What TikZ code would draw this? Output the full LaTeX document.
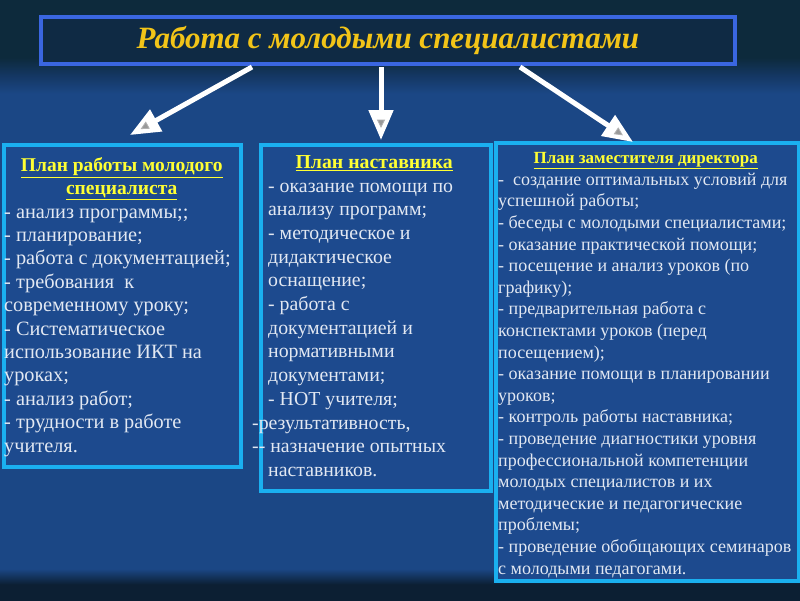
\documentclass[tikz,border=0pt]{standalone}
\usepackage{fontspec}
\setmainfont{Liberation Serif}
\usetikzlibrary{arrows.meta,calc,decorations.markings}
\definecolor{bgtop}{HTML}{0D2A3C}
\definecolor{bgup}{HTML}{143763}
\definecolor{bgmid}{HTML}{1B4785}
\definecolor{bgbot}{HTML}{0C1F33}
\definecolor{panelfill}{HTML}{1D4A8E}
\definecolor{panelline}{HTML}{1AB0F0}
\definecolor{titleline}{HTML}{3A66E0}
\definecolor{titlefill}{HTML}{0F2A44}
\definecolor{titletext}{HTML}{F2C418}
\definecolor{hdrcol}{HTML}{FFFF33}
\definecolor{bodycol}{HTML}{E2E8F2}
\pgfdeclareverticalshading{bgshade}{100bp}{color(0bp)=(bgbot); color(26.3bp)=(bgbot); color(27.6bp)=(bgmid); color(67.2bp)=(bgmid); color(68.7bp)=(bgup); color(70.2bp)=(bgtop); color(100bp)=(bgtop)}
\newcommand{\hdr}[1]{{\bfseries\color{hdrcol}\underline{#1}}}
\begin{document}
\begin{tikzpicture}[x=1pt,y=-1pt,
  panel/.style={draw=panelline, line width=4pt, fill=panelfill, inner sep=0pt, anchor=north west},
  bodytext/.style={text=bodycol, align=left, inner sep=0pt, anchor=west},
  titlebox/.style={draw=titleline, line width=4pt, fill=titlefill, inner sep=0pt},
  bigarrow/.style={draw=white, line width=5pt, -{Triangle[width=24pt,length=30pt,fill=white]},
    postaction={decorate},
    decoration={markings, mark=at position 1 with {\draw[gray!60, line width=0.8pt, fill=black!40] (-20pt,-3.5pt) -- (-20pt,3.5pt) -- (-13pt,0pt) -- cycle;}}}
]
\useasboundingbox (0,0) rectangle (800,600);
\shade[shading=bgshade] (0,0) rectangle (800,600);

\node[titlebox, minimum width=694pt, minimum height=47pt] (title) at (388,40.5)
  {\fontsize{31}{34}\selectfont\bfseries\itshape\color{titletext}Работа с молодыми специалистами};

\node[panel, minimum width=237pt, minimum height=322pt] (left) at (2,143) {};
\node[panel, minimum width=230pt, minimum height=346pt] (mid) at (259,143) {};
\node[panel, minimum width=303pt, minimum height=438pt] (right) at (494,141) {};

\node[bodytext, font=\fontsize{20.3}{23.4}\selectfont] (lefttext) at ($(left.west)+(2,1)$) {%
\makebox[235pt][c]{\fontsize{19.5}{23.4}\selectfont\hdr{План работы молодого}}\\
\makebox[235pt][c]{\fontsize{19.5}{23.4}\selectfont\hdr{специалиста}}\\
- анализ программы;;\\
- планирование;\\
- работа с документацией;\\
- требования\ \ к\\
современному уроку;\\
- Систематическое\\
использование ИКТ на\\
уроках;\\
- анализ работ;\\
- трудности в работе\\
учителя.};

\node[bodytext, font=\fontsize{19.8}{23.7}\selectfont] (midtext) at ($(mid.west)+(9,-2)$) {%
\makebox[212pt][c]{\hdr{План наставника}}\\
- оказание помощи по\\
анализу программ;\\
- методическое и\\
дидактическое\\
оснащение;\\
- работа с\\
документацией и\\
нормативными\\
документами;\\
- НОТ учителя;\\
\hspace*{-16pt}-результативность,\\
\hspace*{-16pt}-{}- назначение опытных\\
наставников.};

\node[bodytext, font=\fontsize{18}{21.6}\selectfont] (righttext) at ($(right.west)+(4,3)$) {%
\makebox[295pt][c]{\fontsize{17}{21.6}\selectfont\hdr{План заместителя директора}}\\
-\ \ создание оптимальных условий для\\
успешной работы;\\
- беседы с молодыми специалистами;\\
- оказание практической помощи;\\
- посещение и анализ уроков (по\\
графику);\\
- предварительная работа с\\
конспектами уроков (перед\\
посещением);\\
- оказание помощи в планировании\\
уроков;\\
- контроль работы наставника;\\
- проведение диагностики уровня\\
профессиональной компетенции\\
молодых специалистов и их\\
методические и педагогические\\
проблемы;\\
- проведение обобщающих семинаров\\
с молодыми педагогами.};

\coordinate (s1) at (252,67);
\coordinate (e1) at (130,135);
\coordinate (s2) at (381,67);
\coordinate (e2) at (381,140);
\coordinate (s3) at (520,67);
\coordinate (e3) at (633,142);
\draw[bigarrow] (s1) -- (e1);
\draw[bigarrow] (s2) -- (e2);
\draw[bigarrow] (s3) -- (e3);
\end{tikzpicture}
\end{document}
